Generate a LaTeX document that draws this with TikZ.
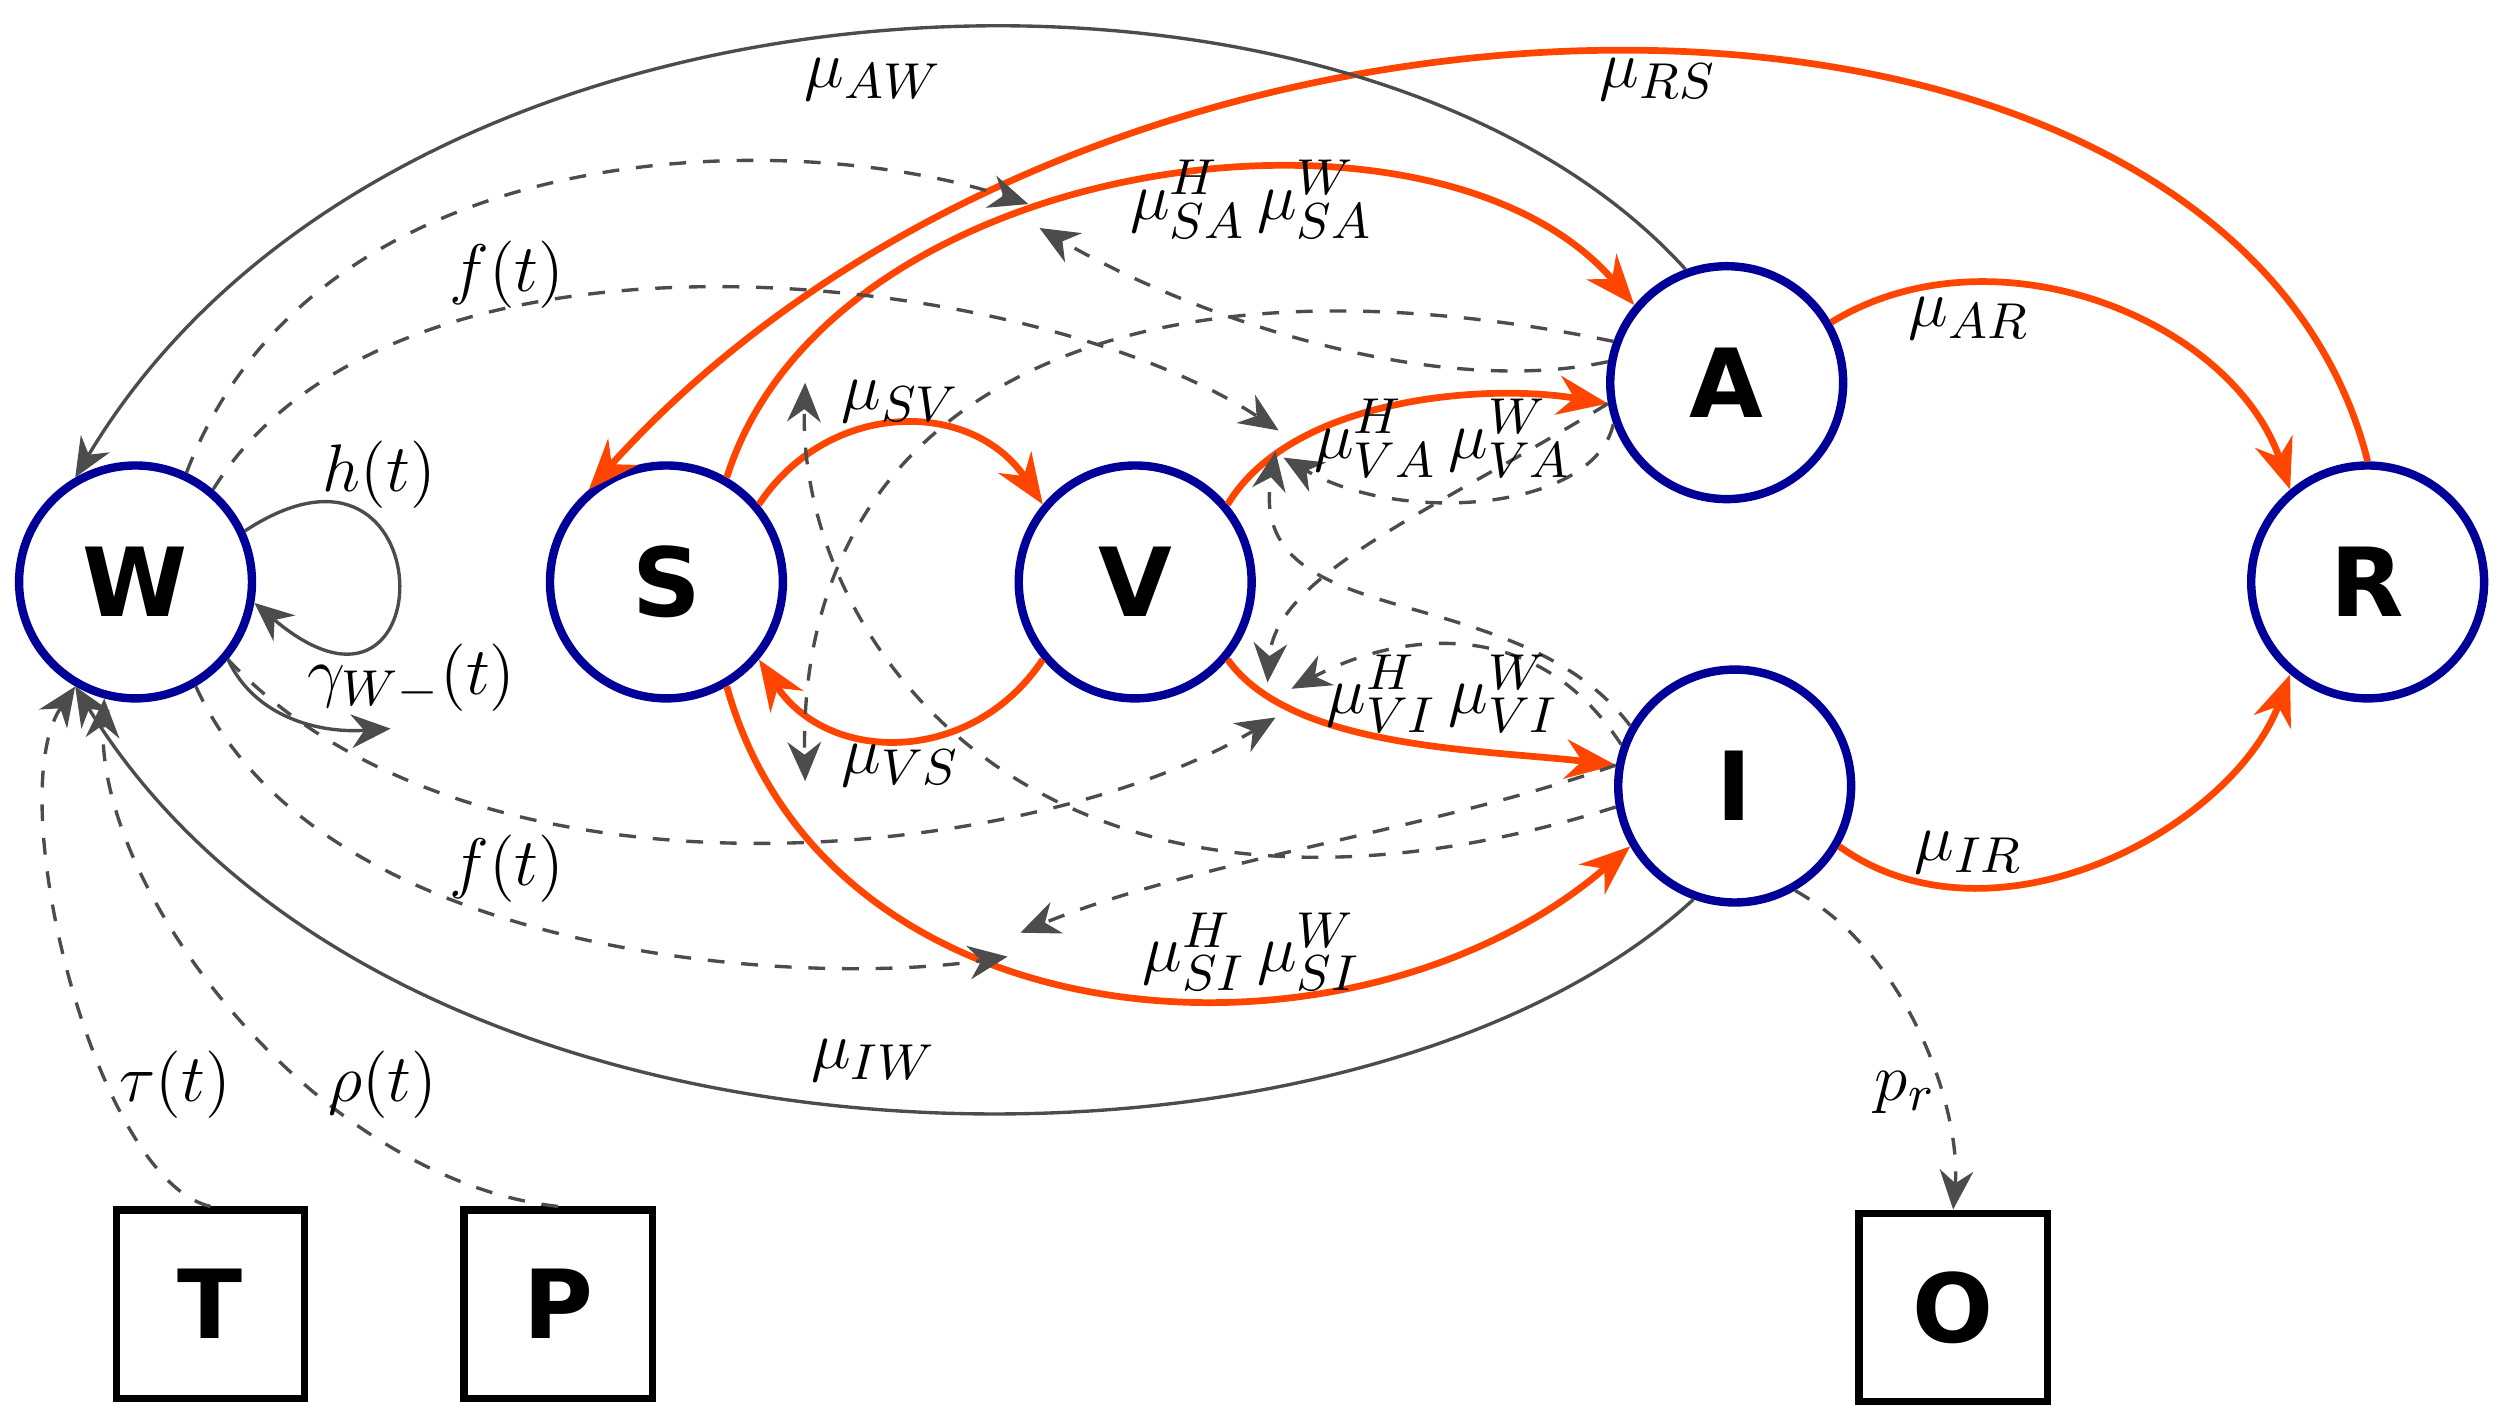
\documentclass[tikz,border=0pt]{standalone}
\usepackage{fontspec}
\setmainfont{DejaVu Sans}
\usetikzlibrary{arrows.meta}
\begin{document}
\begin{tikzpicture}[x=0.01cm,y=-0.01cm,
  st/.style={circle,draw=blue!60!black,line width=1.5pt,minimum size=1.46cm,inner sep=0pt,font=\fontsize{17}{20}\selectfont\bfseries},
  bx/.style={rectangle,draw=black,line width=1.3pt,minimum size=1.18cm,inner sep=0pt,font=\fontsize{17}{20}\selectfont\bfseries},
  oe/.style={draw={rgb,255:red,255;green,69;blue,0},line width=1.2pt,-{Stealth[length=9pt,width=7pt]}},
  ge/.style={draw=black!70,line width=0.6pt,-{Stealth[length=7pt,width=6pt]}},
  de/.style={draw=black!70,line width=0.6pt,dashed,-{Stealth[length=7pt,width=6pt]}},
  lb/.style={font=\fontsize{12.5}{15}\selectfont}]
\useasboundingbox (0,0) rectangle (1568,888);
\node[st] (W) at (85,365) {W};
\node[st] (S) at (418,365) {S};
\node[st] (V) at (712,365) {V};
\node[st] (A) at (1083,240) {A};
\node[st] (I) at (1088,493) {I};
\node[st] (R) at (1485,365) {R};
\node[bx] (T) at (132,818) {T};
\node[bx] (P) at (350,818) {P};
\node[bx] (O) at (1225,820) {O};
\coordinate (g) at (245,457);
\coordinate (c1) at (645,128);
\coordinate (c2) at (652,143);
\coordinate (c3) at (802,270);
\coordinate (c4) at (805,287);
\coordinate (c5) at (800,450);
\coordinate (c6) at (810,432);
\coordinate (c7) at (632,600);
\coordinate (c8) at (640,585);
\coordinate (c9) at (505,490);
\coordinate (c10) at (505,240);
\coordinate (c11) at (795,428);
\coordinate (c12) at (800,283);
% orange
\draw[oe] (S.60) .. controls (520,95) and (900,45) .. (A.140);
\draw[oe] (R.90) .. controls (1400,-50) and (700,-60) .. (S.130);
\draw[oe] (S.40) .. controls (520,250) and (610,250) .. (V.140);
\draw[oe] (V.-140) .. controls (610,480) and (520,480) .. (S.-40);
\draw[oe] (V.40) .. controls (810,250) and (930,240) .. (A.190);
\draw[oe] (V.-40) .. controls (810,470) and (930,470) .. (I.170);
\draw[oe] (S.-60) .. controls (520,660) and (850,680) .. (I.-150);
\draw[oe] (A.30) .. controls (1250,140) and (1400,200) .. (R.130);
\draw[oe] (I.-30) .. controls (1250,600) and (1400,520) .. (R.-130);
% gray solid
\draw[ge] (A.110) .. controls (850,-60) and (250,-40) .. (W.120);
\draw[ge] (I.-110) .. controls (850,760) and (250,760) .. (W.-120);
\draw[ge] (W.25) .. controls (280,250) and (280,480) .. (W.-10);
\draw[ge] (W.-40) .. controls (160,450) and (200,460) .. (g);
% dashed
\draw[de] (W.65) .. controls (200,80) and (500,80) .. (c1);
\draw[de] (A.170) .. controls (900,250) and (750,200) .. (c2);
\draw[de] (W.50) .. controls (250,120) and (650,170) .. (c3);
\draw[de] (A.-160) .. controls (1000,320) and (880,330) .. (c4);
\draw[de] (W.-40) .. controls (300,580) and (650,540) .. (c5);
\draw[de] (I.160) .. controls (960,380) and (870,400) .. (c6);
\draw[de] (W.-60) .. controls (200,600) and (500,620) .. (c7);
\draw[de] (I.170) .. controls (900,520) and (750,540) .. (c8);
\draw[de] (A.160) .. controls (700,150) and (500,250) .. (c9);
\draw[de] (I.-170) .. controls (650,620) and (500,400) .. (c10);
\draw[de] (A.-170) .. controls (900,320) and (800,360) .. (c11);
\draw[de] (I.150) .. controls (950,360) and (780,400) .. (c12);
\draw[de] (T.north) .. controls (60,740) and (0,500) .. (W.-120);
\draw[de] (P.north) .. controls (200,740) and (60,560) .. (W.-105);
\draw[de] (I.-60) .. controls (1200,600) and (1230,700) .. (O.north);
% labels
\node[lb] at (548,50) {$\mu_{AW}$};
\node[lb] at (1040,50) {$\mu_{RS}$};
\node[lb] at (548,665) {$\mu_{IW}$};
\node[lb] at (785,125) {$\mu^H_{SA}\,\mu^W_{SA}$};
\node[lb] at (905,275) {$\mu^H_{VA}\,\mu^W_{VA}$};
\node[lb] at (905,435) {$\mu^H_{VI}\,\mu^W_{VI}$};
\node[lb] at (785,597) {$\mu^H_{SI}\,\mu^W_{SI}$};
\node[lb] at (565,252) {$\mu_{SV}$};
\node[lb] at (565,480) {$\mu_{VS}$};
\node[lb] at (1235,200) {$\mu_{AR}$};
\node[lb] at (1235,535) {$\mu_{IR}$};
\node[lb] at (318,172) {$f(t)$};
\node[lb] at (318,545) {$f(t)$};
\node[lb] at (238,298) {$h(t)$};
\node[lb] at (258,425) {$\gamma_{W-}(t)$};
\node[lb] at (110,680) {$\tau(t)$};
\node[lb] at (240,680) {$\rho(t)$};
\node[lb] at (1195,685) {$p_r$};
\end{tikzpicture}
\end{document}
